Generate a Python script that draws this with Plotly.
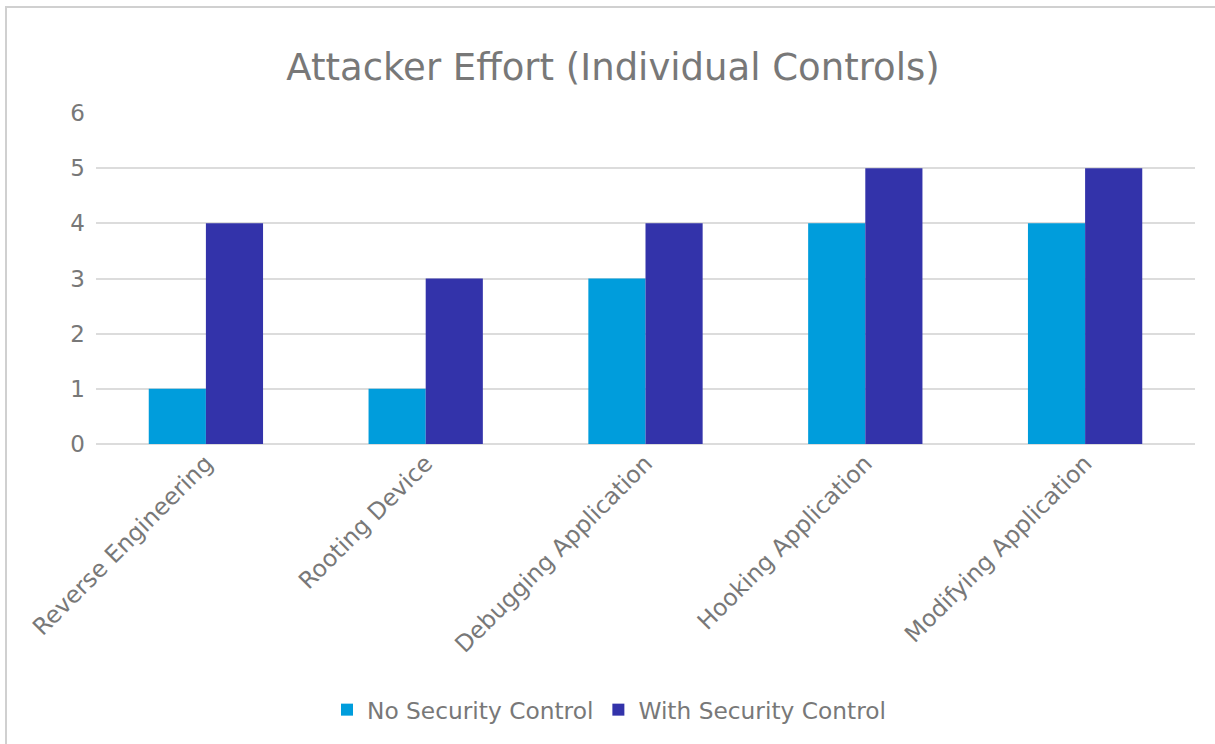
import plotly.graph_objects as go

categories = ["Reverse Engineering", "Rooting Device", "Debugging Application",
              "Hooking Application", "Modifying Application"]
no_control = [1, 1, 3, 4, 4]
with_control = [4, 3, 4, 5, 5]
series_names = ["No Security Control", "With Security Control"]
y_ticks = [0, 1, 2, 3, 4, 5, 6]

W, H = 1215, 744
L, R, T, B = 96, 20, 113, 300
pw, ph = W - L - R, H - T - B

font_family = "DejaVu Sans"
text_color = "#787878"

fig = go.Figure()
fig.add_trace(go.Bar(x=categories, y=no_control, name=series_names[0],
                     marker=dict(color="#009ddc", line=dict(width=0))))
fig.add_trace(go.Bar(x=categories, y=with_control, name=series_names[1],
                     marker=dict(color="#3333aa", line=dict(width=0))))

fig.update_layout(
    width=W, height=H,
    margin=dict(l=L, r=R, t=T, b=B),
    paper_bgcolor="white", plot_bgcolor="white",
    barmode="group", bargap=0.48, bargroupgap=0,
    font=dict(family=font_family, color=text_color, size=23),
    title=dict(text="Attacker Effort (Individual Controls)", x=613 / W, xanchor="center",
               y=1 - 67 / H, yanchor="middle", font=dict(size=37, color=text_color)),
    legend=dict(orientation="h", x=(609 - L) / pw, xanchor="center",
                y=-(710 - (T + ph)) / ph, yanchor="middle",
                font=dict(size=23.3, color=text_color), itemwidth=30,
                traceorder="normal"),
    xaxis=dict(tickangle=-45, showgrid=False, showline=False, ticks="",
               tickfont=dict(size=23.5, color=text_color)),
    yaxis=dict(range=[0, 6], tickvals=y_ticks, showgrid=True, gridcolor="#dcdcdc",
               gridwidth=1.5, zeroline=True, zerolinecolor="#dcdcdc", zerolinewidth=1.5,
               showline=False, ticks="", ticklabelstandoff=10,
               tickfont=dict(size=23, color=text_color)),
    shapes=[dict(type="rect", xref="paper", yref="paper",
                 x0=(6 - L) / pw, x1=(W + 10 - L) / pw,
                 y0=(T + ph - 7) / ph, y1=-(H + 10 - T - ph) / ph,
                 line=dict(color="#d0d0d0", width=2), fillcolor="rgba(0,0,0,0)",
                 layer="below")],
)

fig.write_html("out.html")
